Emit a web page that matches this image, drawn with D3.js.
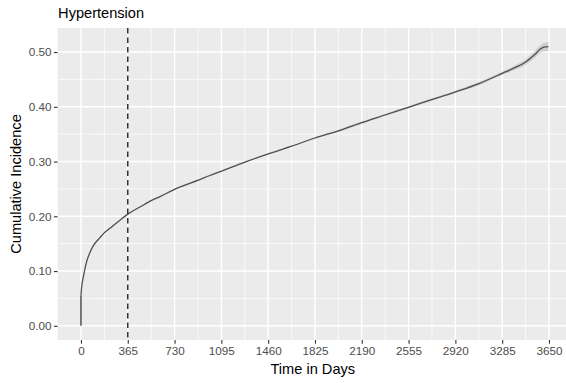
<!DOCTYPE html>
<html>
<head>
<meta charset="utf-8">
<script src="https://cdn.jsdelivr.net/npm/d3@7"></script>
<style>
  html, body { margin: 0; padding: 0; background: #fff; }
  svg { display: block; font-family: "Liberation Sans", Arial, sans-serif; }
</style>
</head>
<body>
<svg id="chart" width="566" height="383"></svg>
<script>
// Cumulative incidence of hypertension over follow-up (days)
const days = [0, 0, 5, 18, 31, 44, 70, 96, 148, 174, 226, 304, 365, 460, 551, 616, 733, 915, 1006, 1097,
  1279, 1461, 1643, 1825, 2020, 2189, 2371, 2553, 2735, 2917, 3099, 3294, 3380, 3463, 3541, 3580, 3610, 3645];
const incidence = [0, 0.055, 0.070, 0.089, 0.104, 0.117, 0.134, 0.146, 0.161, 0.168, 0.178, 0.193, 0.204, 0.217,
  0.229, 0.236, 0.2495, 0.266, 0.2745, 0.2825, 0.299, 0.314, 0.328, 0.343, 0.357, 0.371, 0.385, 0.399, 0.413,
  0.427, 0.442, 0.462, 0.471, 0.481, 0.496, 0.505, 0.509, 0.510];
const ciLower = [0, 0.054, 0.069, 0.088, 0.103, 0.116, 0.133, 0.145, 0.160, 0.167, 0.177, 0.192, 0.203, 0.216,
  0.228, 0.235, 0.2485, 0.265, 0.2735, 0.2815, 0.298, 0.313, 0.327, 0.342, 0.355, 0.369, 0.383, 0.397, 0.411,
  0.425, 0.439, 0.459, 0.467, 0.476, 0.490, 0.498, 0.501, 0.502];
const ciUpper = [0, 0.056, 0.071, 0.090, 0.105, 0.118, 0.135, 0.147, 0.162, 0.169, 0.179, 0.194, 0.205, 0.218,
  0.230, 0.237, 0.2505, 0.267, 0.2755, 0.2835, 0.300, 0.315, 0.329, 0.344, 0.359, 0.373, 0.387, 0.401, 0.415,
  0.429, 0.445, 0.465, 0.475, 0.486, 0.502, 0.512, 0.517, 0.518];
const xTicks = [0, 365, 730, 1095, 1460, 1825, 2190, 2555, 2920, 3285, 3650];
const yTicks = [0, 0.1, 0.2, 0.3, 0.4, 0.5];
const landmarkDay = [365];
const chartTitle = "Hypertension";
const xTitle = "Time in Days";
const yTitle = "Cumulative Incidence";

const panel = { left: 57.6, right: 571.7, top: 28, bottom: 340 };

const svg = d3.select("#chart");

// scales with 5% padding around the data range
const xMax = d3.max(days);
const xPad = xMax * 0.05;
const x = d3.scaleLinear().domain([-xPad, xMax + xPad]).range([panel.left, panel.right]);
const yMaxData = d3.max(ciUpper);
const yPad = yMaxData * 0.05;
const y = d3.scaleLinear().domain([-yPad, yMaxData + yPad]).range([panel.bottom, panel.top]);

svg.append("defs").append("clipPath").attr("id", "panelClip")
  .append("rect")
  .attr("x", panel.left).attr("y", panel.top)
  .attr("width", panel.right - panel.left).attr("height", panel.bottom - panel.top);

// panel background
svg.append("rect")
  .attr("x", panel.left).attr("y", panel.top)
  .attr("width", panel.right - panel.left).attr("height", panel.bottom - panel.top)
  .attr("fill", "#EBEBEB");

const grid = svg.append("g").attr("clip-path", "url(#panelClip)");

// minor grid lines halfway between major ticks
const xMinor = d3.pairs([-365].concat(xTicks, [4015])).map(([a, b]) => (a + b) / 2);
const yMinor = d3.pairs([-0.1].concat(yTicks, [0.6])).map(([a, b]) => (a + b) / 2);

grid.selectAll(".xminor").data(xMinor).join("line")
  .attr("x1", d => x(d)).attr("x2", d => x(d))
  .attr("y1", panel.top).attr("y2", panel.bottom)
  .attr("stroke", "#fff").attr("stroke-width", 0.7);
grid.selectAll(".yminor").data(yMinor).join("line")
  .attr("x1", panel.left).attr("x2", panel.right)
  .attr("y1", d => y(d)).attr("y2", d => y(d))
  .attr("stroke", "#fff").attr("stroke-width", 0.7);
grid.selectAll(".xmajor").data(xTicks).join("line")
  .attr("x1", d => x(d)).attr("x2", d => x(d))
  .attr("y1", panel.top).attr("y2", panel.bottom)
  .attr("stroke", "#fff").attr("stroke-width", 1.4);
grid.selectAll(".ymajor").data(yTicks).join("line")
  .attr("x1", panel.left).attr("x2", panel.right)
  .attr("y1", d => y(d)).attr("y2", d => y(d))
  .attr("stroke", "#fff").attr("stroke-width", 1.4);

const rows = days.map((d, i) => ({ day: d, est: incidence[i], lo: ciLower[i], hi: ciUpper[i] }));
// the first two rows form the jump at day 0; the rest is drawn as a smooth curve
const jump = rows.slice(0, 2);
const after = rows.slice(1);

// confidence band
grid.append("path")
  .datum(after)
  .attr("fill", "#8c8c8c")
  .attr("fill-opacity", 0.3)
  .attr("d", d3.area().curve(d3.curveMonotoneX)
    .x(d => x(d.day)).y0(d => y(d.lo)).y1(d => y(d.hi)));

// estimate line
grid.append("path")
  .datum(jump)
  .attr("fill", "none")
  .attr("stroke", "#333")
  .attr("stroke-width", 1.3)
  .attr("d", d3.line().x(d => x(d.day)).y(d => y(d.est)));
grid.append("path")
  .datum(after)
  .attr("fill", "none")
  .attr("stroke", "#505050")
  .attr("stroke-width", 1.3)
  .attr("stroke-linejoin", "round")
  .attr("d", d3.line().curve(d3.curveMonotoneX).x(d => x(d.day)).y(d => y(d.est)));

// landmark at one year
grid.selectAll(".landmark").data(landmarkDay).join("line")
  .attr("x1", d => x(d)).attr("x2", d => x(d))
  .attr("y1", panel.top).attr("y2", panel.bottom)
  .attr("stroke", "#333").attr("stroke-width", 1.5)
  .attr("stroke-dasharray", "5.5,4");

// axes
const xAxis = svg.append("g")
  .attr("transform", `translate(0,${panel.bottom})`)
  .call(d3.axisBottom(x).tickValues(xTicks).tickFormat(d3.format("d")).tickSize(3.7).tickPadding(3));
const yAxis = svg.append("g")
  .attr("transform", `translate(${panel.left},0)`)
  .call(d3.axisLeft(y).tickValues(yTicks).tickFormat(d3.format(".2f")).tickSize(3.7).tickPadding(2.5));

[xAxis, yAxis].forEach(g => {
  g.select(".domain").remove();
  g.selectAll(".tick line").attr("stroke", "#333").attr("stroke-width", 1.1);
  g.selectAll(".tick text").attr("fill", "#4D4D4D").style("font-size", "11.7px");
});

// titles
svg.append("text")
  .attr("x", panel.left + 0.5).attr("y", 18)
  .attr("fill", "#000").style("font-size", "14.6px")
  .text(chartTitle);

svg.append("text")
  .attr("x", (panel.left + 566) / 2 + 1).attr("y", 373.5)
  .attr("text-anchor", "middle")
  .attr("fill", "#000").style("font-size", "14.6px")
  .text(xTitle);

svg.append("text")
  .attr("transform", `translate(21,${(panel.top + panel.bottom) / 2}) rotate(-90)`)
  .attr("text-anchor", "middle")
  .attr("fill", "#000").style("font-size", "14.6px")
  .text(yTitle);
</script>
</body>
</html>
